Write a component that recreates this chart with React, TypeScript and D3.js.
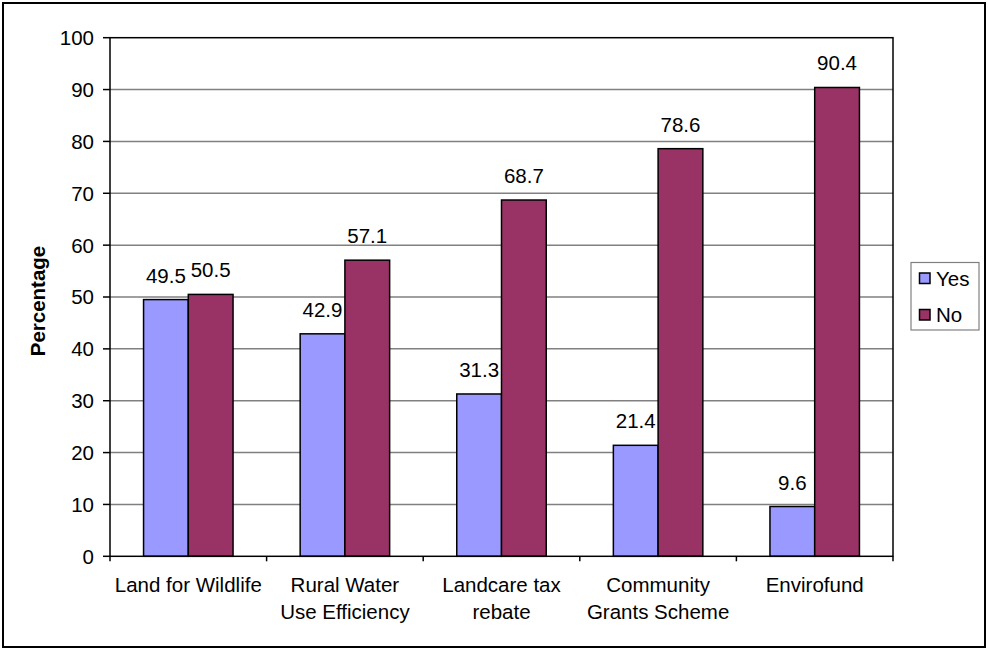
import React from 'react';
import * as d3 from 'd3';

const categories = [
  ['Land for Wildlife'],
  ['Rural Water', 'Use Efficiency'],
  ['Landcare tax', 'rebate'],
  ['Community', 'Grants Scheme'],
  ['Envirofund'],
];
const yesValues = [49.5, 42.9, 31.3, 21.4, 9.6];
const noValues = [50.5, 57.1, 68.7, 78.6, 90.4];
const seriesNames = ['Yes', 'No'];
const seriesColors = ['#9999FF', '#993366'];
const yTicks = [0, 10, 20, 30, 40, 50, 60, 70, 80, 90, 100];

const W = 988;
const H = 650;
const plot = { left: 110, right: 893, top: 37.7, bottom: 556.3 };
const font = '"Liberation Sans", Arial, Helvetica, sans-serif';

export default function App() {
  const keys = categories.map((c) => c.join(' '));
  const x = d3.scaleBand().domain(keys).range([plot.left, plot.right]).padding(0);
  const inner = d3
    .scaleBand()
    .domain(seriesNames)
    .range([0, x.bandwidth()])
    .paddingInner(0)
    .paddingOuter(0.75);
  const y = d3.scaleLinear().domain([0, 100]).range([plot.bottom, plot.top]);

  const series = [yesValues, noValues];

  return (
    <svg
      width={W}
      height={H}
      style={{ position: 'absolute', left: 0, top: 0, background: '#fff' }}
      fontFamily={font}
    >
      <rect x={3} y={3} width={982} height={644} fill="#fff" stroke="#000" strokeWidth={2} />

      {/* gridlines */}
      {yTicks.slice(1, -1).map((t) => (
        <line key={'g' + t} x1={plot.left} x2={plot.right} y1={y(t)} y2={y(t)} stroke="#808080" strokeWidth={1.5} />
      ))}

      {/* bars */}
      {keys.map((k, i) =>
        seriesNames.map((s, j) => {
          const v = series[j][i];
          const bx = (x(k) as number) + (inner(s) as number);
          return (
            <rect
              key={k + s}
              x={bx}
              y={y(v)}
              width={inner.bandwidth()}
              height={y(0) - y(v)}
              fill={seriesColors[j]}
              stroke="#000"
              strokeWidth={1.5}
            />
          );
        })
      )}

      {/* plot border */}
      <rect
        x={plot.left}
        y={plot.top}
        width={plot.right - plot.left}
        height={plot.bottom - plot.top}
        fill="none"
        stroke="#000"
        strokeWidth={1.5}
      />

      {/* y ticks */}
      {yTicks.map((t) => (
        <g key={'t' + t}>
          <line x1={plot.left - 7} x2={plot.left} y1={y(t)} y2={y(t)} stroke="#000" strokeWidth={1.5} />
          <text x={94} y={y(t)} dy="0.36em" textAnchor="end" fontSize={20.5} fill="#000">
            {t}
          </text>
        </g>
      ))}

      {/* x ticks */}
      {keys.concat(['end']).map((k, i) => {
        const px = i < keys.length ? (x(k) as number) : plot.right;
        return <line key={'x' + i} x1={px} x2={px} y1={plot.bottom} y2={plot.bottom + 5} stroke="#000" strokeWidth={1.5} />;
      })}

      {/* category labels */}
      {categories.map((lines, i) => {
        const cx = (x(keys[i]) as number) + x.bandwidth() / 2;
        return (
          <text key={'c' + i} x={cx} y={592} textAnchor="middle" fontSize={20.5} fill="#000">
            {lines.map((l, li) => (
              <tspan key={li} x={cx} dy={li === 0 ? 0 : 27}>
                {l}
              </tspan>
            ))}
          </text>
        );
      })}

      {/* value labels */}
      {keys.map((k, i) =>
        seriesNames.map((s, j) => {
          const v = series[j][i];
          const cx = (x(k) as number) + (inner(s) as number) + inner.bandwidth() / 2;
          return (
            <text key={'v' + k + s} x={cx} y={y(v) - 17} textAnchor="middle" fontSize={20.5} fill="#000">
              {v.toFixed(1)}
            </text>
          );
        })
      )}

      {/* axis title */}
      <text
        transform={`translate(45,${(plot.top + plot.bottom) / 2 + 4}) rotate(-90)`}
        textAnchor="middle"
        fontSize={20.5}
        fontWeight="bold"
        fill="#000"
      >
        Percentage
      </text>

      {/* legend */}
      <rect x={911} y={262.5} width={68} height={67.5} fill="#fff" stroke="#808080" strokeWidth={1.2} />
      {seriesNames.map((s, j) => (
        <g key={'l' + s}>
          <rect x={919.5} y={273 + j * 36.5} width={10.5} height={10.5} fill={seriesColors[j]} stroke="#000" strokeWidth={1.5} />
          <text x={936} y={278.5 + j * 36.5} dy="0.36em" fontSize={20.5} fill="#000">
            {s}
          </text>
        </g>
      ))}
    </svg>
  );
}
